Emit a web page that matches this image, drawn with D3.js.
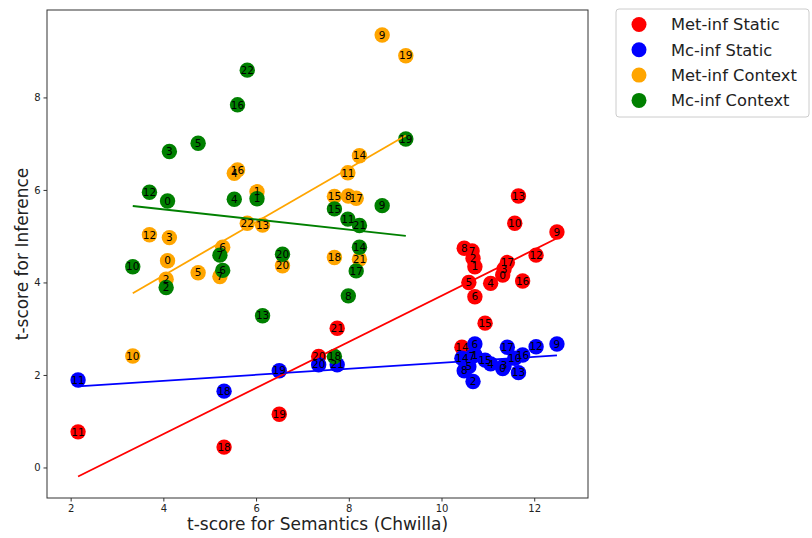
<!DOCTYPE html>
<html>
<head>
<meta charset="utf-8">
<script src="https://cdn.jsdelivr.net/npm/d3@7"></script>
<style>
  body { margin: 0; background: #fff; }
  svg { font-family: "DejaVu Sans", sans-serif; }
</style>
</head>
<body>
<svg id="chart" width="812" height="538"></svg>
<script>
// x values (t-score for semantics) are shared within static and context
const staticX = [11.32, 10.72, 10.68, 11.35, 11.06, 10.59, 10.72, 10.66, 10.49, 12.49, 11.58,
  2.16, 12.04, 11.66, 10.44, 10.94, 11.75, 11.42, 5.31, 6.50, 7.35, 7.75];
const metStaticY = [4.16, 4.34, 4.52, 4.29, 3.98, 4.00, 3.69, 4.68, 4.74, 5.09, 5.28,
  0.77, 4.59, 5.87, 2.60, 3.12, 4.03, 4.43, 0.44, 1.15, 2.40, 3.01];
const mcStaticY = [2.14, 2.43, 1.86, 2.20, 2.24, 2.18, 2.67, 2.40, 2.09, 2.67, 2.36,
  1.89, 2.61, 2.05, 2.36, 2.32, 2.43, 2.60, 1.65, 2.09, 2.22, 2.22];

const contextX = [4.09, 6.02, 4.06, 4.13, 5.53, 4.75, 5.28, 5.22, 7.99, 8.72, 3.34, 7.98,
  3.70, 6.14, 8.23, 7.69, 5.60, 8.16, 7.69, 9.23, 6.57, 8.23, 5.81];
const metContextY = [4.47, 5.96, 4.07, 4.97, 6.36, 4.21, 4.76, 4.13, 5.87, 9.35, 2.41, 6.37,
  5.03, 5.24, 6.74, 5.86, 6.43, 5.82, 4.54, 8.90, 4.36, 4.50, 5.28];
const mcContextY = [5.76, 5.81, 3.89, 6.83, 5.80, 7.01, 4.26, 4.59, 3.71, 5.66, 4.34, 5.37,
  5.95, 3.28, 4.76, 5.59, 7.84, 4.25, 2.40, 7.10, 4.61, 5.23, 8.59];

const seriesNames = ['Met-inf Static', 'Mc-inf Static', 'Met-inf Context', 'Mc-inf Context'];
const seriesColors = ['#ff0000', '#0000ff', '#ffa500', '#008000'];
const xTicks = [2, 4, 6, 8, 10, 12];
const yTicks = [0, 2, 4, 6, 8];

const series = [
  { xs: staticX, ys: metStaticY },
  { xs: staticX, ys: mcStaticY },
  { xs: contextX, ys: metContextY },
  { xs: contextX, ys: mcContextY }
];

const margin = { top: 10, right: 224, bottom: 40, left: 47 };
const width = 812, height = 538;

const svg = d3.select('#chart');

const x = d3.scaleLinear().domain([1.49, 13.16]).range([margin.left, width - margin.right]);
const y = d3.scaleLinear().domain([-0.66, 9.89]).range([height - margin.bottom, margin.top]);

// least squares fit
function fit(xs, ys) {
  const mx = d3.mean(xs), my = d3.mean(ys);
  let num = 0, den = 0;
  xs.forEach((v, i) => { num += (v - mx) * (ys[i] - my); den += (v - mx) * (v - mx); });
  const b = num / den;
  return { b, a: my - b * mx };
}

// markers
series.forEach((s, k) => {
  svg.append('g').selectAll('circle')
    .data(s.xs.map((v, i) => ({ x: v, y: s.ys[i] })))
    .enter()
    .append('circle')
    .attr('cx', d => x(d.x))
    .attr('cy', d => y(d.y))
    .attr('r', 7.7)
    .attr('fill', seriesColors[k]);
});

// regression lines
series.forEach((s, k) => {
  const f = fit(s.xs, s.ys);
  const [x0, x1] = d3.extent(s.xs);
  svg.append('line')
    .attr('x1', x(x0)).attr('y1', y(f.a + f.b * x0))
    .attr('x2', x(x1)).attr('y2', y(f.a + f.b * x1))
    .attr('stroke', seriesColors[k])
    .attr('stroke-width', 1.8);
});

// point labels
series.forEach((s) => {
  svg.append('g').selectAll('text')
    .data(s.xs.map((v, i) => ({ x: v, y: s.ys[i], i })))
    .enter()
    .append('text')
    .attr('x', d => x(d.x))
    .attr('y', d => y(d.y) + 3.7)
    .attr('text-anchor', 'middle')
    .attr('font-size', 10.5)
    .attr('fill', '#000')
    .text(d => d.i);
});

// axes
const xAxis = svg.append('g')
  .attr('transform', `translate(0,${height - margin.bottom})`)
  .call(d3.axisBottom(x).tickValues(xTicks).tickSize(3.5).tickPadding(3));
const yAxis = svg.append('g')
  .attr('transform', `translate(${margin.left},0)`)
  .call(d3.axisLeft(y).tickValues(yTicks).tickSize(3.5).tickPadding(3));
[xAxis, yAxis].forEach(a => {
  a.select('.domain').remove();
  a.selectAll('.tick line').attr('stroke', '#333');
  a.selectAll('.tick text').attr('font-size', 10).attr('fill', '#222')
    .attr('font-family', '"DejaVu Sans", sans-serif');
});

// frame
svg.append('rect')
  .attr('x', margin.left).attr('y', margin.top)
  .attr('width', width - margin.right - margin.left)
  .attr('height', height - margin.bottom - margin.top)
  .attr('fill', 'none')
  .attr('stroke', '#333')
  .attr('stroke-width', 1);

// axis labels
svg.append('text')
  .attr('x', (margin.left + width - margin.right) / 2)
  .attr('y', 530)
  .attr('text-anchor', 'middle')
  .attr('font-size', 17)
  .attr('fill', '#222')
  .text('t-score for Semantics (Chwilla)');
svg.append('text')
  .attr('transform', `translate(28,${(margin.top + height - margin.bottom) / 2}) rotate(-90)`)
  .attr('text-anchor', 'middle')
  .attr('font-size', 17)
  .attr('fill', '#222')
  .text('t-score for Inference');

// legend
const legend = svg.append('g').attr('transform', 'translate(616,9)');
legend.append('rect')
  .attr('width', 193).attr('height', 108)
  .attr('rx', 3)
  .attr('fill', '#fff')
  .attr('stroke', '#ccc');
seriesNames.forEach((name, k) => {
  const row = legend.append('g').attr('transform', `translate(0,${15.5 + k * 25.3})`);
  row.append('circle').attr('cx', 23).attr('cy', 0).attr('r', 7.5).attr('fill', seriesColors[k]);
  row.append('text').attr('x', 55).attr('y', 5.8)
    .attr('font-size', 16.3).attr('fill', '#222').text(name);
});
</script>
</body>
</html>
